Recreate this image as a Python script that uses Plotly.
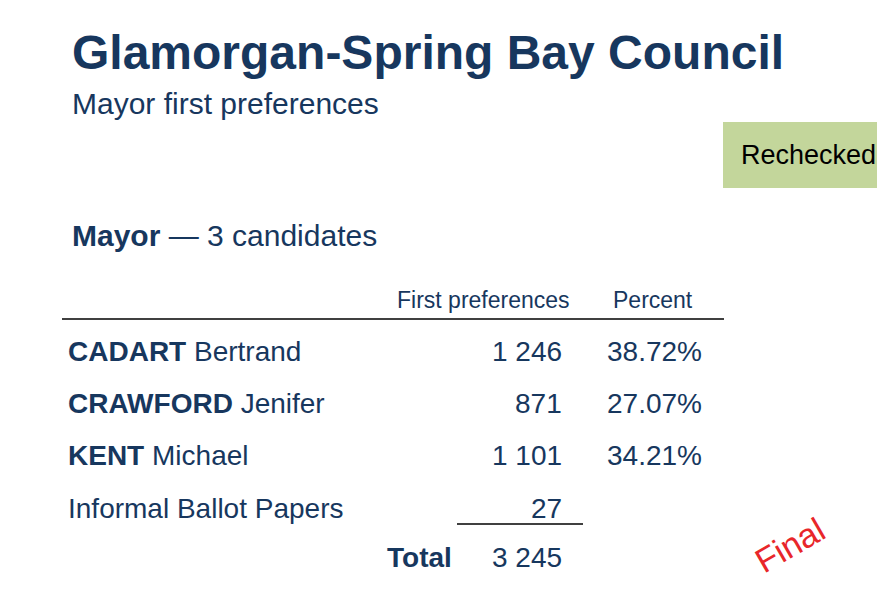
import plotly.graph_objects as go

# Data
surnames = ["CADART", "CRAWFORD", "KENT"]
given = ["Bertrand", "Jenifer", "Michael"]
votes = ["1 246", "871", "1 101"]
percents = ["38.72%", "27.07%", "34.21%"]
informal_label = "Informal Ballot Papers"
informal_votes = "27"
total_votes = "3 245"

navy = "#17375E"
font = "Liberation Sans, Arial, sans-serif"

fig = go.Figure()
ann = []

def text(x, y, s, size, anchor="left", color=navy, **kw):
    ann.append(dict(x=x, y=y, text=s, showarrow=False, xanchor=anchor, yanchor="middle",
                    font=dict(family=font, size=size, color=color), **kw))

text(70, 52, "<b>Glamorgan-Spring Bay Council</b>", 48)
text(70, 103, "Mayor first preferences", 30)
text(808, 155, "Rechecked", 27, anchor="center", color="black")
text(70, 235, "<b>Mayor</b> — 3 candidates", 30)
text(483, 300, "First preferences", 23, anchor="center")
text(653, 300, "Percent", 23, anchor="center")

# Candidate rows
row_y = [351, 403, 455]
for i in range(len(surnames)):
    text(66, row_y[i], f"<b>{surnames[i]}</b> {given[i]}", 28)
    text(564, row_y[i], votes[i], 28, anchor="right")
    text(704, row_y[i], percents[i], 28, anchor="right")

text(66, 508, informal_label, 28)
text(564, 508, informal_votes, 28, anchor="right")
text(454, 557, "<b>Total</b>", 28, anchor="right")
text(564, 557, total_votes, 28, anchor="right")
text(790, 545, "Final", 34, anchor="center", color="#E8262A", textangle=-30)

fig.update_layout(
    width=885, height=612,
    margin=dict(l=0, r=0, t=0, b=0),
    paper_bgcolor="white", plot_bgcolor="white",
    xaxis=dict(range=[8, 893], visible=False, fixedrange=True),
    yaxis=dict(range=[620, 8], visible=False, fixedrange=True),
    annotations=ann,
    shapes=[
        dict(type="rect", x0=723, x1=893, y0=122, y1=188, fillcolor="#C3D69B", line=dict(width=0), layer="below"),
        dict(type="line", x0=62, x1=724, y0=319, y1=319, line=dict(color="black", width=1.5)),
        dict(type="line", x0=457, x1=583, y0=524, y1=524, line=dict(color="black", width=1.5)),
    ],
    showlegend=False,
)

fig.write_html("out.html")
